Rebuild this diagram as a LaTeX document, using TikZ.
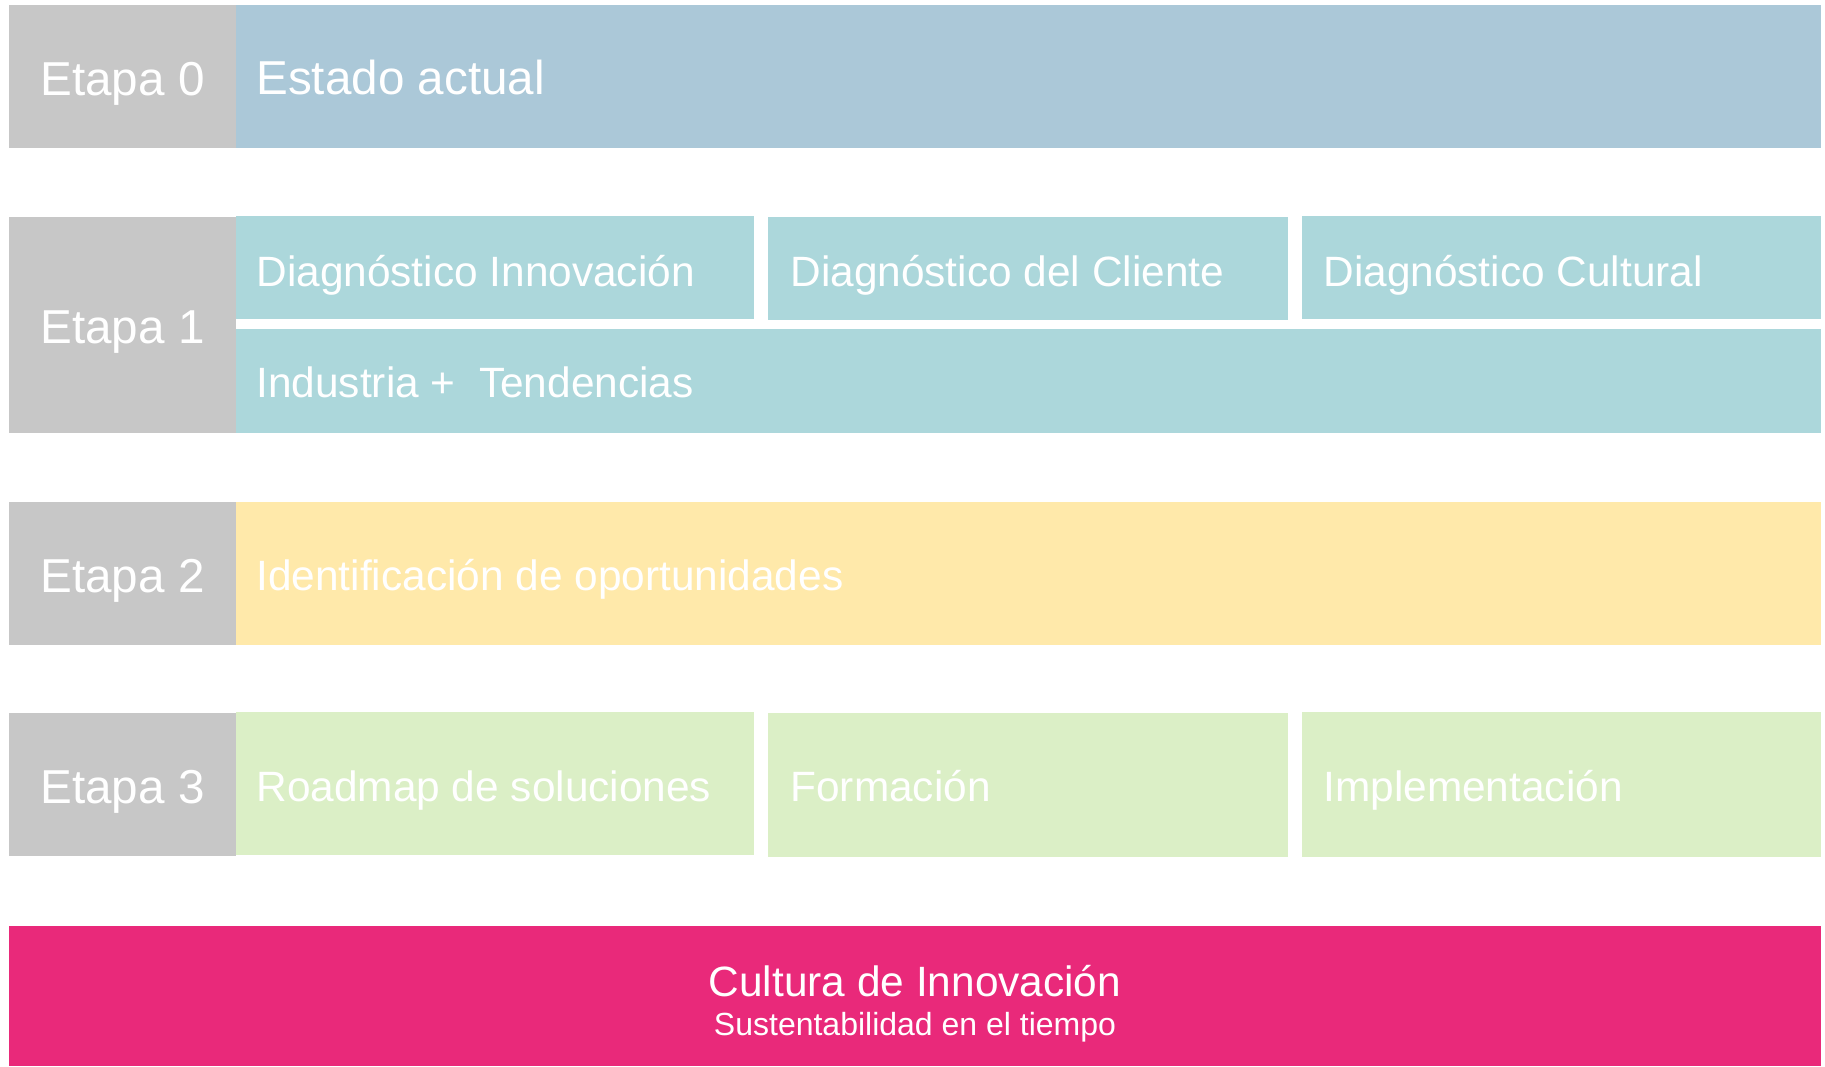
\documentclass[tikz,border=0pt]{standalone}
\usepackage{fontspec}
\setmainfont{Liberation Sans}
\definecolor{etgray}{HTML}{C7C7C7}
\definecolor{etblue}{HTML}{ABC8D8}
\definecolor{etteal}{HTML}{ACD7DB}
\definecolor{etyellow}{HTML}{FFE9AA}
\definecolor{etgreen}{HTML}{DBEFC6}
\definecolor{etpink}{HTML}{E9297A}
\begin{document}
\begin{tikzpicture}[x=0.5pt,y=-0.5pt,
  big/.style={text=white,inner sep=0pt,font=\fontsize{23.8}{28}\selectfont},
  mid/.style={text=white,inner sep=0pt,font=\fontsize{21.2}{25}\selectfont},
  small/.style={text=white,inner sep=0pt,font=\fontsize{16}{19}\selectfont}]
\useasboundingbox (0,0) rectangle (1825,1066);
% Etapa 0
\fill[etgray] (9,5) rectangle (236,148);
\fill[etblue] (236,5) rectangle (1821,148);
\node[big,anchor=base] (e0) at (122.5,95) {Etapa 0};
\node[big,anchor=base west] (estado) at (256,94) {Estado actual};
% Etapa 1
\fill[etgray] (9,217) rectangle (236,433);
\fill[etteal] (236,216) rectangle (754,319);
\fill[etteal] (768,217) rectangle (1288,320);
\fill[etteal] (1302,216) rectangle (1821,319);
\fill[etteal] (236,329) rectangle (1821,433);
\node[big,anchor=base] (e1) at (122.5,343) {Etapa 1};
\node[mid,anchor=base west] (d1) at (256,286) {Diagnóstico Innovación};
\node[mid,anchor=base west] (d2) at (790,286) {Diagnóstico del Cliente};
\node[mid,anchor=base west] (d3) at (1323,286) {Diagnóstico Cultural};
\node[mid,anchor=base west] (ind) at (256,397) {Industria +\ \ Tendencias};
% Etapa 2
\fill[etgray] (9,502) rectangle (236,645);
\fill[etyellow] (236,502) rectangle (1821,645);
\node[big,anchor=base] (e2) at (122.5,592) {Etapa 2};
\node[mid,anchor=base west] (ident) at (256,590) {Identificación de oportunidades};
% Etapa 3
\fill[etgray] (9,713) rectangle (236,856);
\fill[etgreen] (236,712) rectangle (754,855);
\fill[etgreen] (768,713) rectangle (1288,857);
\fill[etgreen] (1302,712) rectangle (1821,857);
\node[big,anchor=base] (e3) at (122.5,803) {Etapa 3};
\node[mid,anchor=base west] (road) at (256,801) {Roadmap de soluciones};
\node[mid,anchor=base west] (form) at (790,801) {Formación};
\node[mid,anchor=base west] (impl) at (1323,801) {Implementación};
% Cultura
\fill[etpink] (9,926) rectangle (1821,1066);
\node[mid,anchor=base] (cult) at (915,996) {Cultura de Innovación};
\node[small,anchor=base] (sust) at (915,1035) {Sustentabilidad en el tiempo};
\end{tikzpicture}
\end{document}
